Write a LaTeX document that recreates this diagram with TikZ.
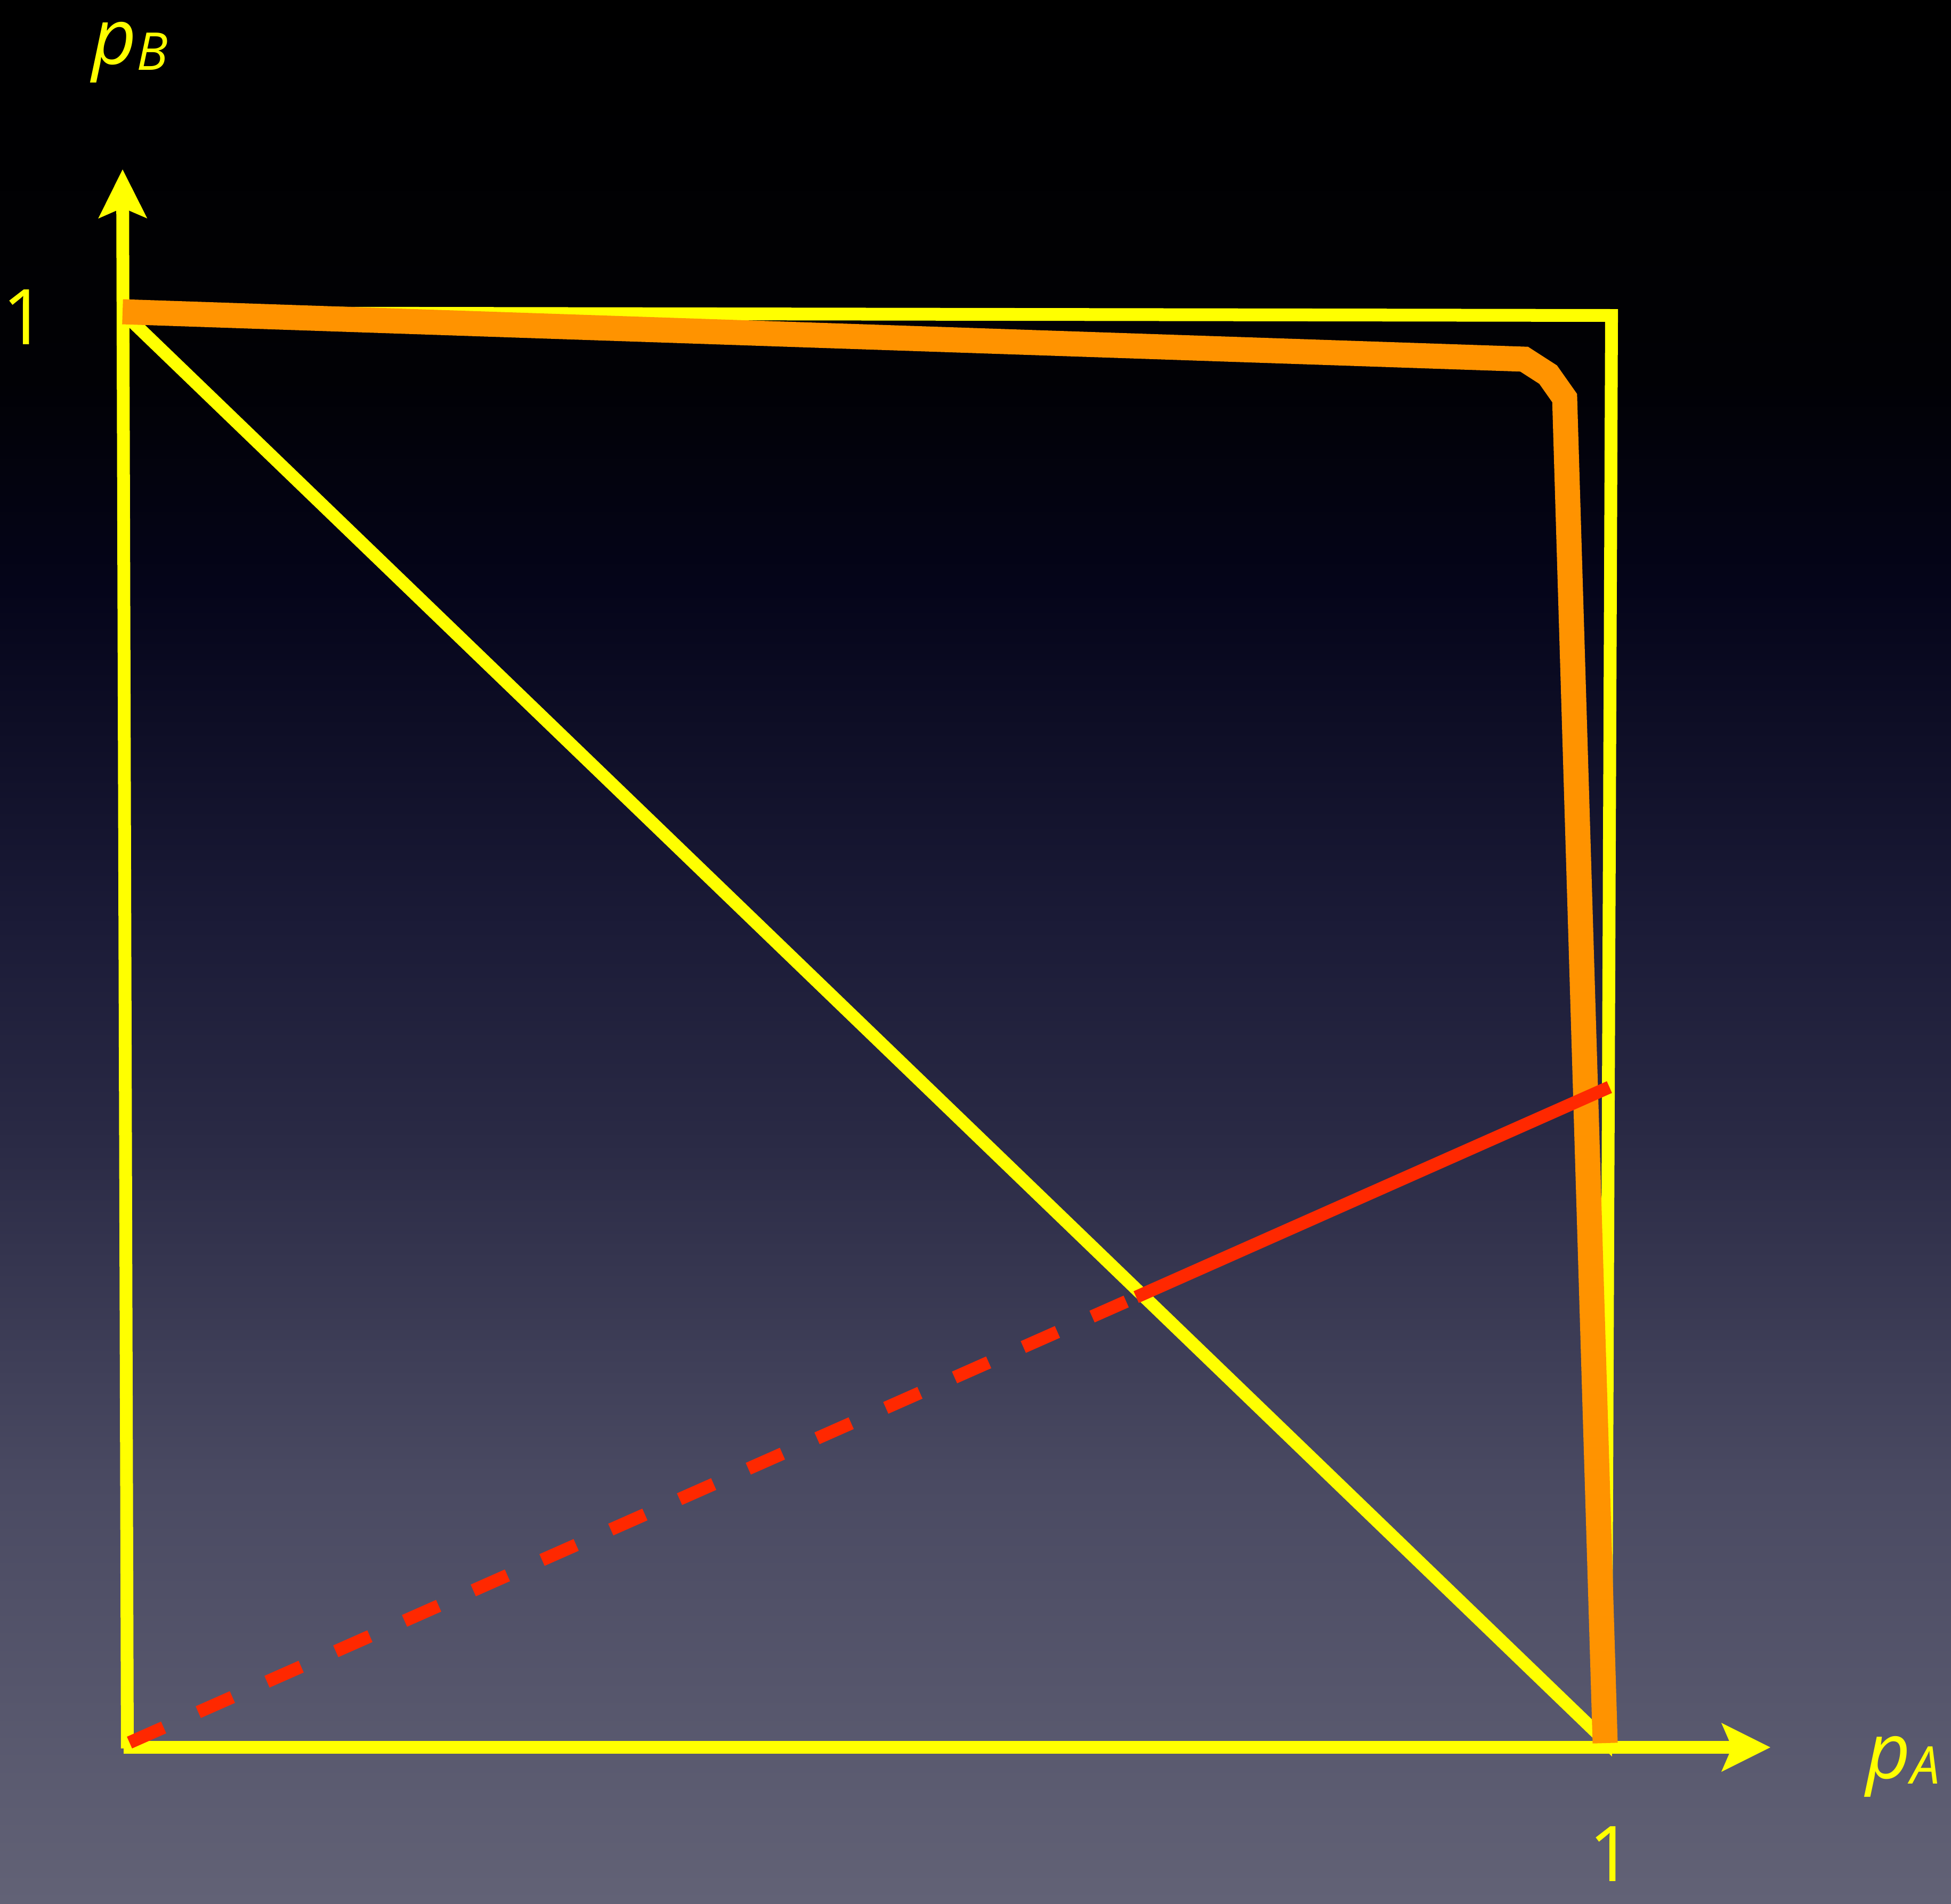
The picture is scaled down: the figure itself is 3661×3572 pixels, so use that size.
\documentclass[tikz,border=0pt]{standalone}
\usepackage{fontspec}
\setmainfont{Open Sans}
\usetikzlibrary{arrows.meta}

\definecolor{hlyellow}{RGB}{255,255,0}
\definecolor{frontier}{RGB}{255,147,0}
\definecolor{rayred}{RGB}{255,40,0}
\definecolor{bgbot}{RGB}{98,98,118}
\definecolor{bgc}{RGB}{74,74,98}
\definecolor{bgd}{RGB}{42,42,69}
\definecolor{bge}{RGB}{26,26,54}
\definecolor{bgf}{RGB}{5,5,26}
\definecolor{bgg}{RGB}{1,1,5}
\pgfdeclareverticalshading{nightsky}{100bp}{color(0bp)=(bgbot); color(25bp)=(bgbot);
  color(36bp)=(bgc); color(45bp)=(bgd); color(51bp)=(bge); color(59.5bp)=(bgf);
  color(65bp)=(bgg); color(75bp)=(black); color(100bp)=(black)}

\begin{document}
\begin{tikzpicture}[
  x=0.01cm, y=-0.01cm,
  frame/.style={draw=hlyellow, line width=0.24cm},
  axis/.style={draw=hlyellow, line width=0.24cm,
               -{Stealth[length=0.92cm, width=0.92cm, inset=0.2cm, line width=0pt]}},
  front/.style={draw=frontier, line width=0.47cm},
  ray/.style={draw=rayred, line width=0.24cm},
  lbl/.style={text=hlyellow, inner sep=0pt},
  axlbl/.style={lbl, anchor=base west, font=\fontsize{41.4}{48}\selectfont\itshape},
  tick/.style={lbl, anchor=base, font=\fontsize{41}{46}\selectfont}
]
  \shade[shading=nightsky] (0,0) rectangle (3661,3572);
  \useasboundingbox (0,0) rectangle (3661,3572);

  % axes and unit square
  \coordinate (ybot)  at (239,3281);
  \coordinate (ytip)  at (230,318);
  \coordinate (xleft) at (232,3279);
  \coordinate (xtip)  at (3322,3279);
  \coordinate (tl) at (231,587);
  \coordinate (tr) at (3024,592);
  \coordinate (br) at (3013,3268);

  \draw[frame] (tl) -- (tr) -- (br) -- (tl);
  \draw[axis] (ybot) -- (ytip);
  \draw[axis] (xleft) -- (xtip);

  % frontier
  \coordinate (f0) at (230,585);
  \coordinate (f1) at (2860,674);
  \coordinate (f2) at (2905,703);
  \coordinate (f3) at (2936,747);
  \coordinate (f4) at (3012,3271);
  \draw[front] (f0) -- (f1) -- (f2) -- (f3) -- (f4);

  % ray from origin
  \coordinate (r0) at (243,3270);
  \coordinate (rm) at (2132,2434);
  \coordinate (r1) at (3020,2040);
  \draw[ray, dash pattern=on 0.7cm off 0.71cm] (r0) -- (rm);
  \draw[ray] (rm) -- (r1);

  \node[axlbl] (pb) at (172,120)
    {p\raisebox{-0.11cm}{\fontsize{27.8}{32}\selectfont B}};
  \node[axlbl] (pa) at (3501,3337)
    {p\raisebox{-0.1cm}{\fontsize{27.8}{32}\selectfont A}};
  \node[tick] (oneb) at (46,646) {1};
  \node[tick] (onea) at (3023,3530) {1};
\end{tikzpicture}
\end{document}
